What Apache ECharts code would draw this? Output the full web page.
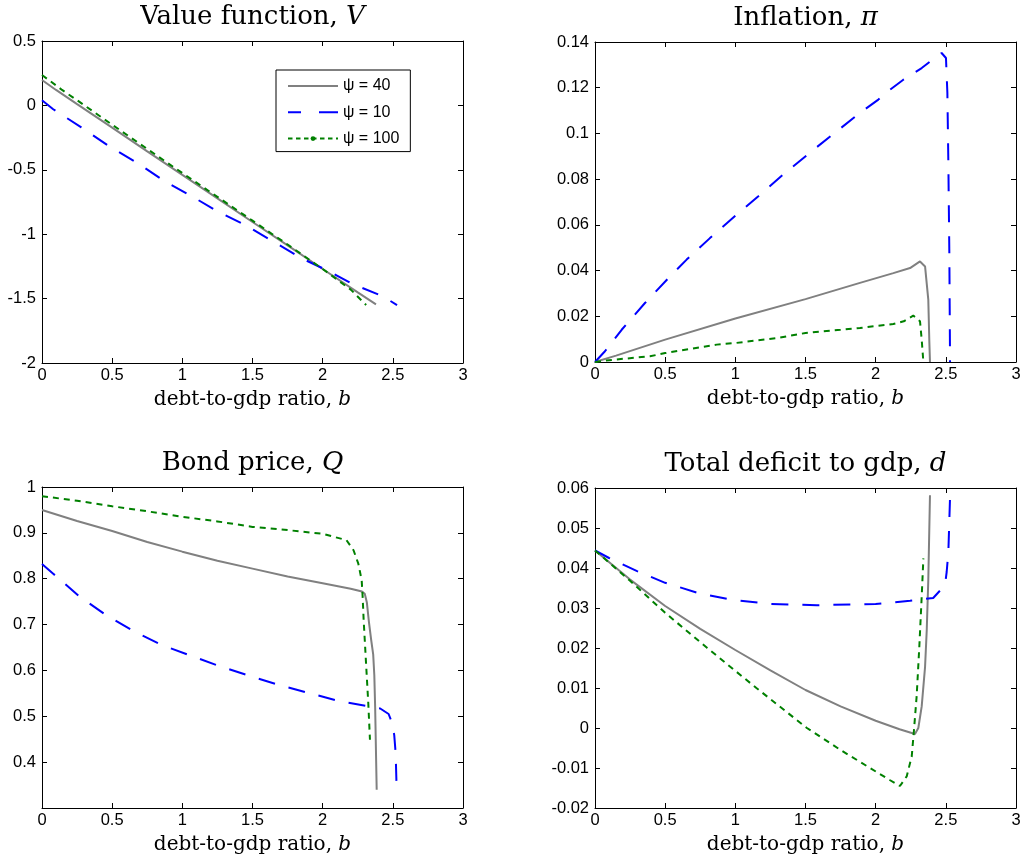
<!DOCTYPE html>
<html>
<head>
<meta charset="utf-8">
<script src="https://cdn.jsdelivr.net/npm/echarts@6/dist/echarts.min.js"></script>
<style>
html,body{margin:0;padding:0;background:#fff;}
#c{width:1024px;height:865px;}
</style>
</head>
<body>
<div id="c"></div>
<script>
// ---------- data ----------
const seriesNames = ['ψ = 40', 'ψ = 10', 'ψ = 100'];
const panelTitles = ['Value function, {i|V}', 'Inflation, {i|π}', 'Bond price, {i|Q}', 'Total deficit to gdp, {i|d}'];
const xLabel = 'debt-to-gdp ratio, {i|b}';
const xTicks = {min: 0, max: 3, interval: 0.5};
const yTicksV = {min: -2, max: 0.5, interval: 0.5};
const yTicksP = {min: 0, max: 0.14, interval: 0.02};
const yTicksQ = {min: 0.3, max: 1, interval: 0.1};
const yTicksD = {min: -0.02, max: 0.06, interval: 0.01};

// Value function V
const bV40 = [0, 0.1, 0.25, 0.5, 0.75, 1, 1.25, 1.5, 1.75, 2, 2.25, 2.38];
const V40  = [0.197, 0.12, 0.01, -0.172, -0.357, -0.54, -0.722, -0.905, -1.087, -1.27, -1.452, -1.545];
const bV10 = [0, 0.08, 0.28, 0.475, 0.677, 0.872, 1.074, 1.24, 1.447, 1.65, 1.85, 2.05, 2.2, 2.405, 2.47, 2.53];
const V10  = [0.04, -0.03, -0.17, -0.315, -0.445, -0.587, -0.709, -0.817, -0.929, -1.058, -1.187, -1.29, -1.38, -1.472, -1.51, -1.55];
const bV100 = [0, 0.143, 0.25, 0.5, 0.75, 0.95, 1.25, 1.5, 1.75, 2, 2.2, 2.31];
const V100  = [0.236, 0.12, 0.04, -0.15, -0.338, -0.488, -0.71, -0.895, -1.08, -1.27, -1.43, -1.55];

// Inflation pi
const bP40 = [0, 0.15, 0.5, 1, 1.5, 1.888, 2.126, 2.245, 2.316, 2.352, 2.375, 2.382, 2.387];
const P40  = [0, 0.0028, 0.0098, 0.019, 0.0275, 0.0346, 0.0389, 0.0411, 0.044, 0.0418, 0.0273, 0.0098, 0];
const bP10 = [0, 0.071, 0.19, 0.356, 0.523, 0.653, 0.819, 1.01, 1.164, 1.354, 1.544, 1.722, 1.888, 2.019, 2.102, 2.197, 2.328, 2.43, 2.47, 2.501, 2.511, 2.518, 2.525, 2.53];
const P10  = [0, 0.0047, 0.0141, 0.0258, 0.0367, 0.0448, 0.0542, 0.0645, 0.0725, 0.0827, 0.0922, 0.1009, 0.109, 0.1148, 0.1191, 0.1235, 0.1286, 0.1335, 0.1352, 0.133, 0.1177, 0.087, 0.0477, 0];
const bP100 = [0, 0.1, 0.392, 0.5, 0.867, 1, 1.3, 1.5, 1.75, 1.888, 2.126, 2.2, 2.268, 2.316, 2.328, 2.34];
const P100  = [0, 0.0008, 0.0025, 0.0039, 0.0076, 0.0083, 0.0105, 0.0127, 0.0141, 0.0149, 0.0166, 0.0178, 0.0203, 0.0178, 0.0098, 0];

// Bond price Q
const bQ40 = [0, 0.25, 0.5, 0.75, 1, 1.25, 1.5, 1.75, 2, 2.2, 2.28, 2.3, 2.315, 2.33, 2.345, 2.36, 2.368, 2.374, 2.38, 2.385];
const Q40  = [0.95, 0.926, 0.904, 0.88, 0.859, 0.839, 0.822, 0.805, 0.79, 0.778, 0.772, 0.767, 0.748, 0.705, 0.668, 0.635, 0.59, 0.52, 0.42, 0.34];
const bQ10 = [0, 0.08, 0.26, 0.45, 0.65, 0.85, 1.07, 1.25, 1.46, 1.68, 1.91, 2.12, 2.34, 2.41, 2.47, 2.495, 2.51, 2.52, 2.528];
const Q10  = [0.832, 0.811, 0.763, 0.722, 0.686, 0.656, 0.631, 0.611, 0.59, 0.569, 0.55, 0.533, 0.521, 0.517, 0.505, 0.485, 0.459, 0.42, 0.333];
const bQ100 = [0, 0.25, 0.5, 0.75, 1, 1.25, 1.5, 1.75, 2, 2.17, 2.22, 2.254, 2.278, 2.285, 2.292, 2.309, 2.325, 2.337];
const Q100  = [0.98, 0.97, 0.958, 0.947, 0.935, 0.925, 0.913, 0.906, 0.898, 0.884, 0.862, 0.833, 0.797, 0.76, 0.71, 0.616, 0.529, 0.449];

// Total deficit d
const bD40 = [0, 0.25, 0.5, 0.75, 1, 1.25, 1.5, 1.75, 2, 2.17, 2.28, 2.304, 2.328, 2.352, 2.364, 2.375, 2.387];
const D40  = [0.0444, 0.0371, 0.0305, 0.0248, 0.0195, 0.0144, 0.0095, 0.0054, 0.0018, -0.0003, -0.0015, 0, 0.0054, 0.0153, 0.0245, 0.037, 0.0582];
const bD10 = [0, 0.1, 0.3, 0.5, 0.74, 0.97, 1.25, 1.58, 2, 2.245, 2.41, 2.494, 2.506, 2.518, 2.53];
const D10  = [0.0444, 0.0425, 0.0392, 0.0363, 0.0337, 0.0321, 0.031, 0.0307, 0.031, 0.0318, 0.0325, 0.0357, 0.039, 0.044, 0.0577];
const bD100 = [0, 0.25, 0.5, 0.8, 1.15, 1.51, 1.75, 1.96, 2.1, 2.173, 2.221, 2.257, 2.273, 2.292, 2.311, 2.328, 2.34];
const D100  = [0.0444, 0.0368, 0.0288, 0.02, 0.01, 0, -0.0055, -0.01, -0.013, -0.0145, -0.0121, -0.0071, -0.0005, 0.0079, 0.0203, 0.0328, 0.0424];

// ---------- layout / style ----------
const grids = [
  {left: 42, top: 41, width: 421, height: 322},
  {left: 595, top: 42, width: 421, height: 320},
  {left: 42, top: 487, width: 421, height: 321},
  {left: 595, top: 488, width: 421, height: 320}
];
const yTicks = [yTicksV, yTicksP, yTicksQ, yTicksD];
const panelData = [
  [[bV40, V40], [bV10, V10], [bV100, V100]],
  [[bP40, P40], [bP10, P10], [bP100, P100]],
  [[bQ40, Q40], [bQ10, Q10], [bQ100, Q100]],
  [[bD40, D40], [bD10, D10], [bD100, D100]]
];
const lineStyles = [
  {color: '#808080', width: 2, type: 'solid'},
  {color: '#0000ff', width: 2, type: [17, 14]},
  {color: '#008000', width: 2, type: [6, 5]}
];
const serif = 'DejaVu Serif, serif';
const sans = 'Liberation Sans, Arial, sans-serif';
const tickFont = 16.5;

const axisLine = {show: true, onZero: false, lineStyle: {color: '#000', width: 1}};
const axisTick = {show: true, inside: true, length: 5, lineStyle: {color: '#000', width: 1}};

const xAxis = [], yAxis = [], series = [];
grids.forEach((g, i) => {
  xAxis.push({
    type: 'value', gridIndex: i, position: 'bottom', min: xTicks.min, max: xTicks.max, interval: xTicks.interval,
    axisLine, axisTick, splitLine: {show: false},
    axisLabel: {color: '#000', fontSize: tickFont, fontFamily: sans, margin: 4},
    name: xLabel, nameLocation: 'middle', nameGap: 27,
    nameTextStyle: {color: '#000', fontSize: 20, fontFamily: serif,
      rich: {i: {fontStyle: 'italic', fontSize: 20, fontFamily: serif, color: '#000'}}}
  });
  xAxis.push({
    type: 'value', gridIndex: i, position: 'top', min: xTicks.min, max: xTicks.max, interval: xTicks.interval,
    axisLine, axisTick, splitLine: {show: false}, axisLabel: {show: false},
    name: panelTitles[i], nameLocation: 'middle', nameGap: 11,
    nameTextStyle: {color: '#000', fontSize: 26, fontFamily: serif,
      rich: {i: {fontStyle: 'italic', fontSize: 26, fontFamily: serif, color: '#000'}}}
  });
  const yt = yTicks[i];
  yAxis.push({
    type: 'value', gridIndex: i, position: 'left', min: yt.min, max: yt.max, interval: yt.interval,
    axisLine, axisTick, splitLine: {show: false},
    axisLabel: {color: '#000', fontSize: tickFont, fontFamily: sans, margin: 6, showMinLabel: i !== 2}
  });
  yAxis.push({
    type: 'value', gridIndex: i, position: 'right', min: yt.min, max: yt.max, interval: yt.interval,
    axisLine, axisTick, splitLine: {show: false}, axisLabel: {show: false}
  });
  panelData[i].forEach((pair, k) => {
    const [bs, vs] = pair;
    series.push({
      type: 'line', name: seriesNames[k], xAxisIndex: 2 * i, yAxisIndex: 2 * i,
      data: bs.map((b, j) => [b, vs[j]]),
      symbol: 'none', smooth: false, lineStyle: lineStyles[k],
      itemStyle: {color: lineStyles[k].color}, z: 2 + k
    });
  });
});

const option = {
  animation: false,
  backgroundColor: '#fff',
  grid: grids.map(g => Object.assign({show: false, containLabel: false, outerBoundsMode: 'none'}, g)),
  xAxis, yAxis, series,
  legend: {
    left: 276, top: 70, orient: 'vertical', selectedMode: false,
    padding: [7, 11, 4, 11], itemGap: 8.3, itemWidth: 50, itemHeight: 6,
    borderColor: '#000', borderWidth: 1, backgroundColor: '#fff',
    textStyle: {fontSize: 16, fontFamily: sans, color: '#000', lineHeight: 18, width: 55},
    data: [
      {name: seriesNames[0], itemStyle: {opacity: 0}, lineStyle: {color: '#808080', width: 2, type: 'solid'}},
      {name: seriesNames[1], itemStyle: {opacity: 0}, lineStyle: {color: '#0000ff', width: 2, type: [13, 18, 19, 100]}},
      {name: seriesNames[2], itemStyle: {color: '#008000', borderWidth: 0}, lineStyle: {color: '#008000', width: 2, type: [4.5, 3.5]}}
    ]
  }
};

const chart = echarts.init(document.getElementById('c'), null, {renderer: 'canvas'});
chart.setOption(option);
</script>
</body>
</html>
